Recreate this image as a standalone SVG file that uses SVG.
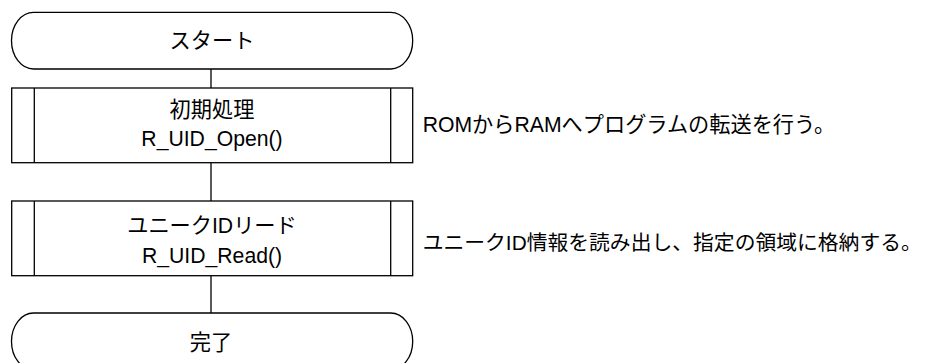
<svg xmlns="http://www.w3.org/2000/svg" width="925" height="363" viewBox="0 0 925 363">
<style>
.shape{fill:#fff;stroke:#000;stroke-width:1.3}
.line{fill:none;stroke:#000;stroke-width:1.3}
text{font-family:"Liberation Sans","Noto Sans CJK JP",sans-serif;font-size:21.2px;fill:#000}
.c{text-anchor:middle}
.n2{font-size:20.8px}
</style>
<g id="connectors">
<line class="line" x1="211" y1="69" x2="211" y2="88"/>
<line class="line" x1="211" y1="162.7" x2="211" y2="201"/>
<line class="line" x1="211" y1="275.7" x2="211" y2="313"/>
</g>
<g id="start">
<rect class="shape" x="11.5" y="12.3" width="401.2" height="56.7" rx="22" ry="28.3"/>
<text class="c" x="212" y="47.5">スタート</text>
</g>
<g id="init">
<rect class="shape" x="11.7" y="88" width="401" height="74.7"/>
<line class="line" x1="34.3" y1="88" x2="34.3" y2="162.7"/>
<line class="line" x1="390.7" y1="88" x2="390.7" y2="162.7"/>
<text class="c" x="212" y="116.5">初期処理</text>
<text class="c" x="212" y="145.7">R_UID_Open()</text>
</g>
<g id="note1">
<text x="422.7" y="131.5">ROMからRAMへプログラムの転送を行う。</text>
</g>
<g id="read">
<rect class="shape" x="11.7" y="201" width="401" height="74.7"/>
<line class="line" x1="34.3" y1="201" x2="34.3" y2="275.7"/>
<line class="line" x1="390.7" y1="201" x2="390.7" y2="275.7"/>
<text class="c" x="212" y="233">ユニークIDリード</text>
<text class="c" x="212" y="262.5">R_UID_Read()</text>
</g>
<g id="note2">
<text class="n2" x="422.7" y="250">ユニークID情報を読み出し、指定の領域に格納する。</text>
</g>
<g id="end">
<rect class="shape" x="11.5" y="313" width="401.2" height="56.7" rx="22" ry="28.3"/>
<text class="c" x="211" y="349.5">完了</text>
</g>
</svg>
